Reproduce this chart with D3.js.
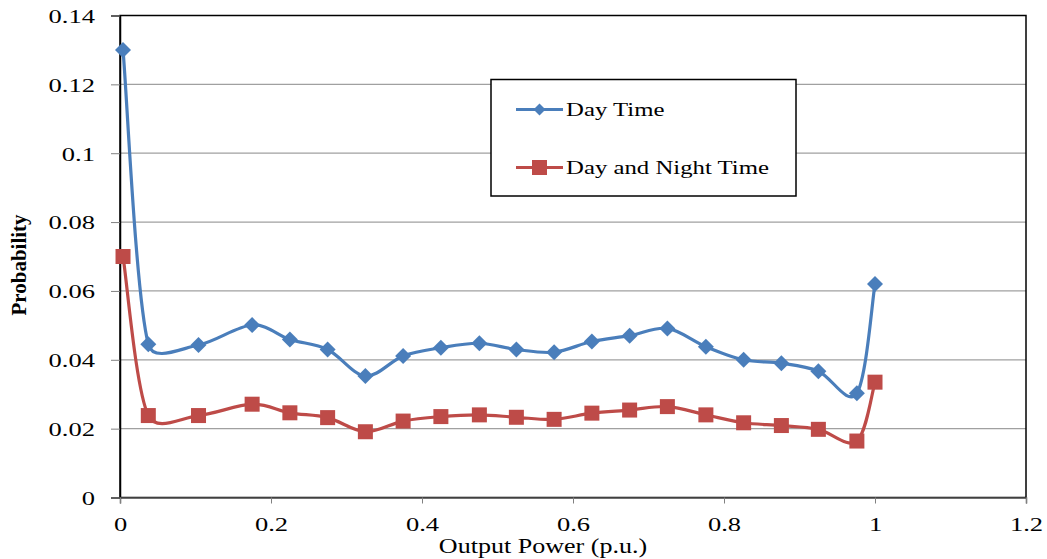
<!DOCTYPE html>
<html>
<head>
<meta charset="utf-8">
<script src="https://cdn.jsdelivr.net/npm/d3@7"></script>
<style>
  body { margin: 0; background: #fff; }
  svg text { font-family: "Liberation Serif", "Times New Roman", serif; }
</style>
</head>
<body>
<div id="chart-container"></div>
<script>
// output power bins (p.u.)
const powerLevels = [0.004, 0.0375, 0.104, 0.175, 0.225, 0.275, 0.325, 0.375, 0.425, 0.476,
  0.525, 0.575, 0.625, 0.675, 0.725, 0.776, 0.826, 0.876, 0.925, 0.976, 1.0];

const dayTime = [0.130, 0.0445, 0.0443, 0.0501, 0.0459, 0.0430, 0.0353, 0.0411, 0.0435, 0.0448,
  0.0430, 0.0422, 0.0453, 0.0470, 0.0491, 0.0438, 0.0400, 0.0390, 0.0367, 0.0303, 0.0620];

const dayNight = [0.070, 0.0238, 0.0238, 0.0271, 0.0246, 0.0232, 0.0191, 0.0222, 0.0235, 0.0240,
  0.0233, 0.0227, 0.0245, 0.0254, 0.0264, 0.0240, 0.0217, 0.0209, 0.0198, 0.0164, 0.0335];

const xTicks = [0, 0.2, 0.4, 0.6, 0.8, 1, 1.2];
const yTicks = [0, 0.02, 0.04, 0.06, 0.08, 0.1, 0.12, 0.14];

const seriesNames = ["Day Time", "Day and Night Time"];

const width = 1047;
const height = 559;
const margin = { left: 120, right: 21, top: 15.5, bottom: 61.5 };
const innerW = width - margin.left - margin.right;
const innerH = height - margin.top - margin.bottom;

const blue = "#4a7ebb";
const red = "#be4b48";

// the original picture is stretched sideways, so widen the text to match
function stretch(sel, k) {
  sel.each(function () {
    const w = this.getComputedTextLength();
    d3.select(this)
        .attr("textLength", w * k)
        .attr("lengthAdjust", "spacingAndGlyphs");
  });
}

// spreadsheet-style smoothed line: catmull-rom tangents, shortened on short segments
function smoothPath(pts) {
  const n = pts.length;
  const tan = pts.map((pt, i) => {
    const a = pts[Math.max(i - 1, 0)], b = pts[Math.min(i + 1, n - 1)];
    return [(b[0] - a[0]) / 6, (b[1] - a[1]) / 6];
  });
  const clamp = (t, max) => {
    const len = Math.hypot(t[0], t[1]);
    return len > max ? [t[0] * max / len, t[1] * max / len] : t;
  };
  const p = d3.path();
  p.moveTo(pts[0][0], pts[0][1]);
  for (let i = 0; i < n - 1; i++) {
    const a = pts[i], b = pts[i + 1];
    const L = Math.hypot(b[0] - a[0], b[1] - a[1]) * 0.38;
    const t0 = clamp(tan[i], L), t1 = clamp(tan[i + 1], L);
    p.bezierCurveTo(a[0] + t0[0], a[1] + t0[1], b[0] - t1[0], b[1] - t1[1], b[0], b[1]);
  }
  return p.toString();
}

const svg = d3.select("#chart-container")
    .append("svg")
    .attr("width", width)
    .attr("height", height);

const g = svg.append("g")
    .attr("transform", `translate(${margin.left},${margin.top})`);

const xScale = d3.scaleLinear().domain([0, 1.2]).range([0, innerW]);
const yScale = d3.scaleLinear().domain([0, 0.14]).range([innerH, 0]);

// gridlines
g.selectAll(".grid")
    .data(yTicks.slice(1, -1))
    .enter()
    .append("line")
    .attr("x1", 0)
    .attr("x2", innerW)
    .attr("y1", d => yScale(d))
    .attr("y2", d => yScale(d))
    .attr("stroke", "#a0a0a0")
    .attr("stroke-width", 1.3);

// plot border
g.append("rect")
    .attr("x", 0)
    .attr("y", 0)
    .attr("width", innerW)
    .attr("height", innerH)
    .attr("fill", "none")
    .attr("stroke", "#000")
    .attr("stroke-width", 1.5);

// y axis
const yAxis = g.append("g")
    .call(d3.axisLeft(yScale).tickValues(yTicks).tickSize(9).tickPadding(16)
      .tickFormat(d => d === 0 ? "0" : String(+d.toFixed(2))));
yAxis.select(".domain").attr("stroke", "#000").attr("stroke-width", 1.5);
yAxis.selectAll(".tick line").attr("stroke", "#808080");
yAxis.selectAll("text")
    .attr("font-size", 19.5)
    .attr("fill", "#000")
    .attr("dy", "0.35em")
    .call(stretch, 1.36);

// x axis
const xAxis = g.append("g")
    .attr("transform", `translate(0,${innerH})`)
    .call(d3.axisBottom(xScale).tickValues(xTicks).tickSize(6).tickPadding(14)
      .tickFormat(d => String(+d.toFixed(1))));
xAxis.select(".domain").attr("stroke", "#555").attr("stroke-width", 1.5);
xAxis.selectAll(".tick line").attr("stroke", "#808080");
xAxis.selectAll("text")
    .attr("font-size", 19.5)
    .attr("fill", "#000")
    .call(stretch, 1.36);

// axis titles
svg.append("text")
    .attr("x", 543)
    .attr("y", 553)
    .attr("text-anchor", "middle")
    .attr("font-size", 20.5)
    .text("Output Power (p.u.)")
    .call(stretch, 1.27);

svg.append("text")
    .attr("transform", "translate(26,265) rotate(-90)")
    .attr("text-anchor", "middle")
    .attr("font-size", 21)
    .attr("font-weight", "bold")
    .text("Probability");

// lines
const dayPts = powerLevels.map((p, i) => [p, dayTime[i]]);
const nightPts = powerLevels.map((p, i) => [p, dayNight[i]]);
const toPx = pts => pts.map(d => [xScale(d[0]), yScale(d[1])]);

g.append("path")
    .attr("d", smoothPath(toPx(dayPts)))
    .attr("fill", "none")
    .attr("stroke", blue)
    .attr("stroke-width", 3.2);

g.append("path")
    .attr("d", smoothPath(toPx(nightPts)))
    .attr("fill", "none")
    .attr("stroke", red)
    .attr("stroke-width", 3.2);

g.selectAll(".dayMarker")
    .data(dayPts)
    .enter()
    .append("path")
    .attr("class", "dayMarker")
    .attr("transform", d => `translate(${xScale(d[0])},${yScale(d[1])})`)
    .attr("d", "M0,-8L8,0L0,8L-8,0Z")
    .attr("fill", blue);

g.selectAll(".nightMarker")
    .data(nightPts)
    .enter()
    .append("rect")
    .attr("class", "nightMarker")
    .attr("x", d => xScale(d[0]) - 7.5)
    .attr("y", d => yScale(d[1]) - 7.5)
    .attr("width", 15)
    .attr("height", 15)
    .attr("fill", red);

// legend
const legend = svg.append("g");
legend.append("rect")
    .attr("x", 491)
    .attr("y", 79.5)
    .attr("width", 305)
    .attr("height", 116.5)
    .attr("fill", "#fff")
    .attr("stroke", "#000")
    .attr("stroke-width", 1.5);

const legendRows = [
  { name: seriesNames[0], color: blue, y: 109.5, shape: "diamond" },
  { name: seriesNames[1], color: red, y: 167.5, shape: "square" }
];

legendRows.forEach(r => {
  legend.append("line")
      .attr("x1", 516).attr("x2", 563)
      .attr("y1", r.y).attr("y2", r.y)
      .attr("stroke", r.color)
      .attr("stroke-width", 3.2);
  if (r.shape === "diamond") {
    legend.append("path")
        .attr("transform", `translate(539.5,${r.y})`)
        .attr("d", "M0,-6L6,0L0,6L-6,0Z")
        .attr("fill", r.color);
  } else {
    legend.append("rect")
        .attr("x", 532).attr("y", r.y - 7.5)
        .attr("width", 15).attr("height", 15)
        .attr("fill", r.color);
  }
  legend.append("text")
      .attr("x", 566)
      .attr("y", r.y + 6.5)
      .attr("font-size", 19.5)
      .text(r.name)
      .call(stretch, 1.27);
});
</script>
</body>
</html>
